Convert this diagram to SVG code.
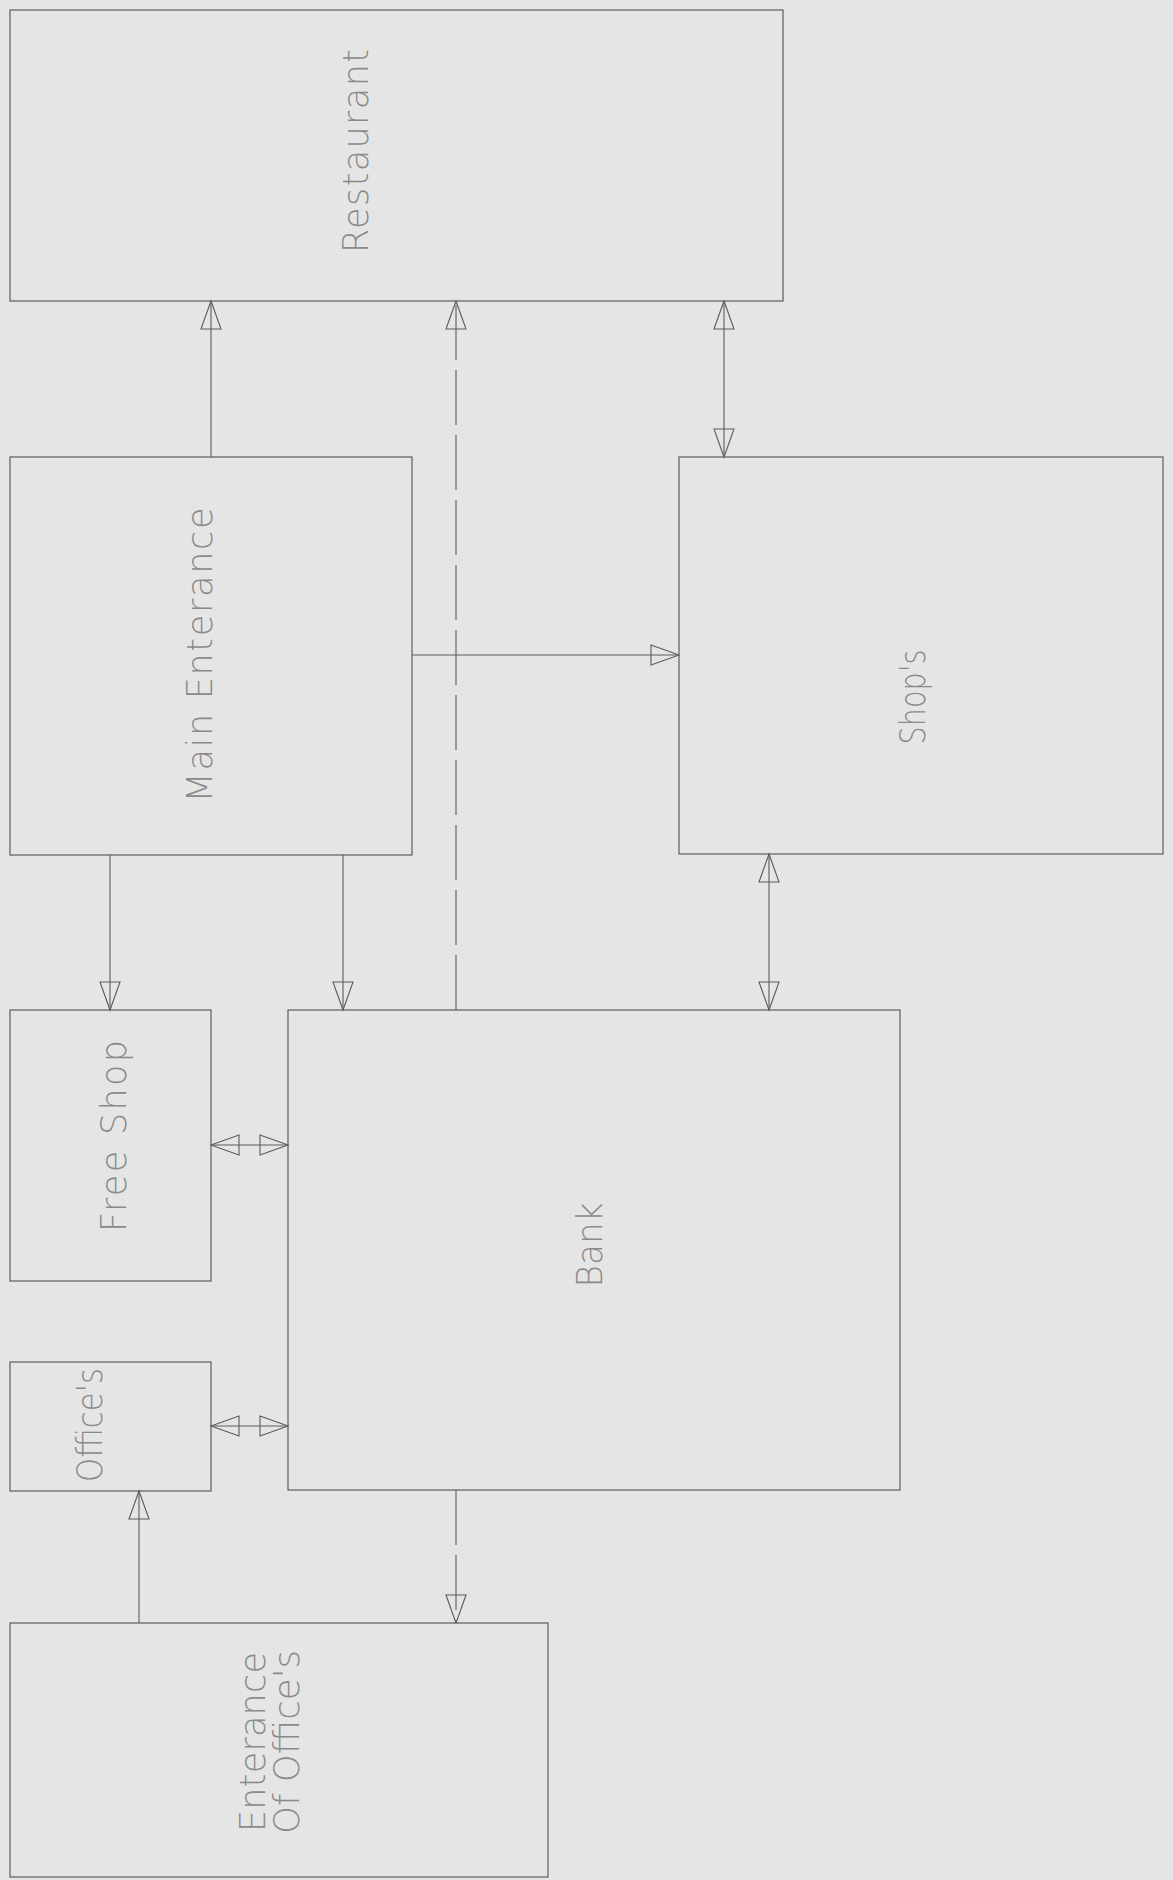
<svg xmlns="http://www.w3.org/2000/svg" width="1173" height="1880" viewBox="0 0 1173 1880">
  <style>
    .box { fill: none; stroke: #5c5c5c; stroke-width: 1.2; }
    .lbl { font-family: "DejaVu Sans", "Liberation Sans", Arial, sans-serif; font-weight: 200; font-size: 35px; fill: #8a8a8a; text-anchor: middle; }
    .con { fill: none; stroke: #5c5c5c; stroke-width: 1.1; }
    .dash { stroke-dasharray: 55 10; }
  </style>
  <defs>
    <marker id="ah" markerWidth="32" markerHeight="24" refX="29" refY="12" orient="auto-start-reverse" markerUnits="userSpaceOnUse">
      <path d="M1,2 L29,12 L1,22 Z" fill="none" stroke="#5c5c5c" stroke-width="1.1" stroke-dasharray="none"/>
    </marker>
  </defs>
  <rect width="1173" height="1880" fill="#e5e5e5"/>

  <g id="restaurant">
    <rect class="box" x="10" y="10" width="773" height="291"/>
    <text class="lbl" transform="translate(368,151) rotate(-90)" textLength="204" lengthAdjust="spacing">Restaurant</text>
  </g>
  <g id="main-enterance">
    <rect class="box" x="10" y="457" width="402" height="398"/>
    <text class="lbl" transform="translate(212,655) rotate(-90)" textLength="295" lengthAdjust="spacing">Main Enterance</text>
  </g>
  <g id="shops">
    <rect class="box" x="679" y="457" width="484" height="397"/>
    <text class="lbl" transform="translate(925,697) rotate(-90)" textLength="95" lengthAdjust="spacingAndGlyphs">Shop's</text>
  </g>
  <g id="free-shop">
    <rect class="box" x="10" y="1010" width="201" height="271"/>
    <text class="lbl" transform="translate(126,1136) rotate(-90)" textLength="192" lengthAdjust="spacing">Free Shop</text>
  </g>
  <g id="bank">
    <rect class="box" x="288" y="1010" width="612" height="480"/>
    <text class="lbl" transform="translate(602,1245) rotate(-90)" textLength="85" lengthAdjust="spacingAndGlyphs">Bank</text>
  </g>
  <g id="offices">
    <rect class="box" x="10" y="1362" width="201" height="129"/>
    <text class="lbl" transform="translate(102,1425) rotate(-90)" textLength="114" lengthAdjust="spacingAndGlyphs">Office's</text>
  </g>
  <g id="enterance-of-offices">
    <rect class="box" x="10" y="1623" width="538" height="254"/>
    <text class="lbl" transform="translate(265,1742) rotate(-90)" textLength="180" lengthAdjust="spacing">Enterance</text>
    <text class="lbl" transform="translate(299,1742) rotate(-90)" textLength="184" lengthAdjust="spacingAndGlyphs">Of Office's</text>
  </g>

  <g id="connectors">
    <line class="con" x1="211" y1="457" x2="211" y2="301" marker-end="url(#ah)"/>
    <line class="con dash" x1="456" y1="1010" x2="456" y2="301" marker-end="url(#ah)"/>
    <line class="con" x1="724" y1="301" x2="724" y2="457" marker-start="url(#ah)" marker-end="url(#ah)"/>
    <line class="con" x1="412" y1="655" x2="679" y2="655" marker-end="url(#ah)"/>
    <line class="con" x1="110" y1="855" x2="110" y2="1010" marker-end="url(#ah)"/>
    <line class="con" x1="343" y1="855" x2="343" y2="1010" marker-end="url(#ah)"/>
    <line class="con" x1="769" y1="854" x2="769" y2="1010" marker-start="url(#ah)" marker-end="url(#ah)"/>
    <line class="con" x1="211" y1="1145" x2="288" y2="1145" marker-start="url(#ah)" marker-end="url(#ah)"/>
    <line class="con" x1="211" y1="1426" x2="288" y2="1426" marker-start="url(#ah)" marker-end="url(#ah)"/>
    <line class="con" x1="139" y1="1623" x2="139" y2="1491" marker-end="url(#ah)"/>
    <line class="con dash" x1="456" y1="1490" x2="456" y2="1623" marker-end="url(#ah)"/>
  </g>
</svg>
